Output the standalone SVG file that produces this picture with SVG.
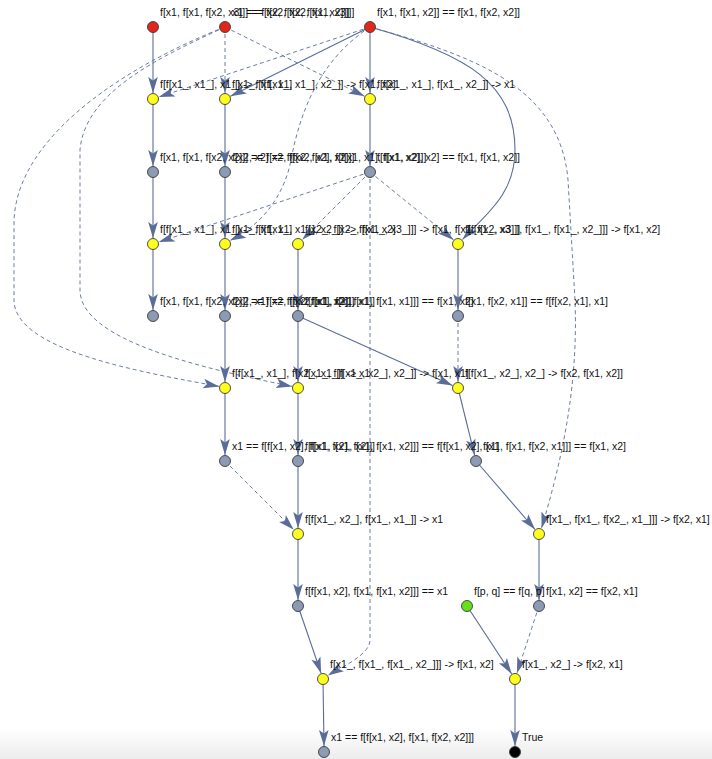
<svg xmlns="http://www.w3.org/2000/svg" width="712" height="759" viewBox="0 0 712 759">
<defs>
<marker id="a" viewBox="-17 -6 18 12" refX="0" refY="0" markerWidth="18" markerHeight="12" markerUnits="userSpaceOnUse" orient="auto">
<path d="M0,0 L-16,-4.8 L-12.5,0 L-16,4.8 Z" fill="#5a6d98"/>
</marker>
<linearGradient id="bg" x1="0" y1="0" x2="0" y2="1">
<stop offset="0" stop-color="#ffffff"/>
<stop offset="1" stop-color="#ececec"/>
</linearGradient>
</defs>
<style>
.s{fill:none;stroke:#5a6d98;stroke-width:1.1;marker-end:url(#a)}
.d{fill:none;stroke:#5a6d98;stroke-width:0.9;stroke-dasharray:4,3;marker-end:url(#a)}
circle{stroke:#3a3a3a;stroke-width:0.9}
.y{fill:#ffff1e}
.g{fill:#8c9ab6}
.r{fill:#e1261c}
.gr{fill:#66e01b}
.k{fill:#000}
text{font-family:"Liberation Sans",Arial,sans-serif;font-size:10.5px;fill:#111}
</style>
<rect x="0" y="0" width="712" height="759" fill="#fff"/>
<rect x="0" y="728" width="712" height="31" fill="url(#bg)"/>
<g id="connectors">
<path class="s" d="M153,27 L153,93"/>
<path class="s" d="M370,27 L370,93"/>
<path class="s" d="M370,27 L230.4,96.3"/>
<path class="d" d="M370,27 L158.7,97.1"/>
<path class="d" d="M225,27 L225,93"/>
<path class="d" d="M225,27 L364.6,96.3"/>
<path class="s" d="M370,27 C470,55 515,85 515,150 C515,195 485,215 462.5,239.5"/>
<path class="d" d="M370,27 C470,55 560,85 568,180 L575,300 C578,380 565,450 541.5,528.3"/>
<path class="d" d="M370,27 C320,60 300,110 290,165 C280,205 255,228 230,240.5"/>
<path class="d" d="M225,27 C140,60 18,130 14,220 L14,300 C14,350 140,372 219.2,386.4"/>
<path class="d" d="M225,27 C165,55 85,90 80,150 L80,290 C80,340 200,368 292.2,386.4"/>
<path class="s" d="M153,99 L153,166"/>
<path class="s" d="M153,172 L153,238"/>
<path class="s" d="M153,244 L153,310"/>
<path class="s" d="M225,99 L225,166"/>
<path class="s" d="M225,172 L225,238"/>
<path class="s" d="M225,244 L225,310"/>
<path class="s" d="M225,316 L225,382"/>
<path class="s" d="M225,388 L225,455"/>
<path class="s" d="M370,99 L370,166"/>
<path class="d" d="M370,172 L158.7,242.1"/>
<path class="d" d="M370,172 L302.2,239.8"/>
<path class="d" d="M370,172 L453.6,239.9"/>
<path class="d" d="M370,172 L370,640 C370,655 340,668 327.8,675.5"/>
<path class="s" d="M298,244 L298,310"/>
<path class="s" d="M298,316 L298,382"/>
<path class="s" d="M298,388 L298,455"/>
<path class="s" d="M298,461 L298,528"/>
<path class="s" d="M298,534 L298,600"/>
<path class="s" d="M298,606 L321.1,673.3"/>
<path class="s" d="M323,679 L324,746"/>
<path class="s" d="M458,244 L458,310"/>
<path class="d" d="M458,316 L458,382"/>
<path class="s" d="M298,316 L452.5,385.5"/>
<path class="s" d="M458,388 L474.6,455.2"/>
<path class="s" d="M476,461 L535.1,529.5"/>
<path class="d" d="M225,461 L293.8,529.8"/>
<path class="s" d="M539,534 L539,600"/>
<path class="d" d="M539,606 L516.9,673.3"/>
<path class="s" d="M467,606 L511.7,674"/>
<path class="s" d="M515,679 L515,746"/>
</g>
<g id="n0"><circle class="r" cx="153" cy="27" r="5.5"/><text x="160" y="15.5">f[x1, f[x1, f[x2, x3]]] == f[x2, f[x2, f[x1, x3]]]</text></g>
<g id="n1"><circle class="r" cx="225" cy="27" r="5.5"/><text x="232" y="15.5">x1 == f[x2, f[x2, f[x1, x2]]]</text></g>
<g id="n2"><circle class="r" cx="370" cy="27" r="5.5"/><text x="377" y="15.5">f[x1, f[x1, x2]] == f[x1, f[x2, x2]]</text></g>
<g id="n3"><circle class="y" cx="153" cy="99" r="5.5"/><text x="160" y="87.5">f[f[x1_, x1_], x1_] -&gt; f[x1, x1]</text></g>
<g id="n4"><circle class="y" cx="225" cy="99" r="5.5"/><text x="232" y="87.5">f[x1_, f[f[x1_, x1_], x2_]] -&gt; f[x1, x2]</text></g>
<g id="n5"><circle class="y" cx="370" cy="99" r="5.5"/><text x="377" y="87.5">f[f[x1_, x1_], f[x1_, x2_]] -&gt; x1</text></g>
<g id="n6"><circle class="g" cx="153" cy="172" r="5.5"/><text x="160" y="160.5">f[x1, f[x1, f[x2, x2]]] == f[x2, f[x2, f[x1, x2]]]</text></g>
<g id="n7"><circle class="g" cx="225" cy="172" r="5.5"/><text x="232" y="160.5">f[x2, x2] == f[f[x2, x2], f[f[x1, x1], f[x1, x2]]]</text></g>
<g id="n8"><circle class="g" cx="370" cy="172" r="5.5"/><text x="377" y="160.5">f[f[x1, x2], x2] == f[x1, f[x1, x2]]</text></g>
<g id="n9"><circle class="y" cx="153" cy="244" r="5.5"/><text x="160" y="232.5">f[f[x1_, x1_], x1_] -&gt; f[x1, x1]</text></g>
<g id="n10"><circle class="y" cx="225" cy="244" r="5.5"/><text x="232" y="232.5">f[x1_, f[f[x1_, x1_], x2_]] -&gt; f[x1, x2]</text></g>
<g id="n11"><circle class="y" cx="298" cy="244" r="5.5"/><text x="305" y="232.5">f[x2_, f[x2_, f[x1_, x3_]]] -&gt; f[x1, f[x1, f[x2, x3]]]</text></g>
<g id="n12"><circle class="y" cx="458" cy="244" r="5.5"/><text x="465" y="232.5">f[f[x1_, x3_], f[x1_, f[x1_, x2_]]] -&gt; f[x1, x2]</text></g>
<g id="n13"><circle class="g" cx="153" cy="316" r="5.5"/><text x="160" y="304.5">f[x1, f[x1, f[x2, x2]]] == f[x2, f[x2, f[x1, x2]]]</text></g>
<g id="n14"><circle class="g" cx="225" cy="316" r="5.5"/><text x="232" y="304.5">f[x2, x1] == f[f[x2, x1], f[x1, x1]]</text></g>
<g id="n15"><circle class="g" cx="298" cy="316" r="5.5"/><text x="305" y="304.5">f[f[x1, x2], f[x1, f[x1, x1]]] == f[x1, x2]</text></g>
<g id="n16"><circle class="g" cx="458" cy="316" r="5.5"/><text x="465" y="304.5">f[x1, f[x2, x1]] == f[f[x2, x1], x1]</text></g>
<g id="n17"><circle class="y" cx="225" cy="388" r="5.5"/><text x="232" y="376.5">f[f[x1_, x1_], f[x2_, x1_]] -&gt; x1</text></g>
<g id="n18"><circle class="y" cx="298" cy="388" r="5.5"/><text x="305" y="376.5">f[x1_, f[f[x1_, x2_], x2_]] -&gt; f[x1, x1]</text></g>
<g id="n19"><circle class="y" cx="458" cy="388" r="5.5"/><text x="465" y="376.5">f[f[x1_, x2_], x2_] -&gt; f[x2, f[x1, x2]]</text></g>
<g id="n20"><circle class="g" cx="225" cy="461" r="5.5"/><text x="232" y="449.5">x1 == f[f[x1, x2], f[x1, f[x1, x2]]]</text></g>
<g id="n21"><circle class="g" cx="298" cy="461" r="5.5"/><text x="305" y="449.5">f[f[x1, x2], f[x1, f[x1, x2]]] == f[f[x1, x2], x1]</text></g>
<g id="n22"><circle class="g" cx="476" cy="461" r="5.5"/><text x="483" y="449.5">f[x1, f[x1, f[x2, x1]]] == f[x1, x2]</text></g>
<g id="n23"><circle class="y" cx="298" cy="534" r="5.5"/><text x="305" y="522.5">f[f[x1_, x2_], f[x1_, x1_]] -&gt; x1</text></g>
<g id="n24"><circle class="y" cx="539" cy="534" r="5.5"/><text x="546" y="522.5">f[x1_, f[x1_, f[x2_, x1_]]] -&gt; f[x2, x1]</text></g>
<g id="n25"><circle class="g" cx="298" cy="606" r="5.5"/><text x="305" y="594.5">f[f[x1, x2], f[x1, f[x1, x2]]] == x1</text></g>
<g id="n26"><circle class="gr" cx="467" cy="606" r="5.5"/><text x="474" y="594.5">f[p, q] == f[q, p]</text></g>
<g id="n27"><circle class="g" cx="539" cy="606" r="5.5"/><text x="546" y="594.5">f[x1, x2] == f[x2, x1]</text></g>
<g id="n28"><circle class="y" cx="323" cy="679" r="5.5"/><text x="330" y="667.5">f[x1_, f[x1_, f[x1_, x2_]]] -&gt; f[x1, x2]</text></g>
<g id="n29"><circle class="y" cx="515" cy="679" r="5.5"/><text x="522" y="667.5">f[x1_, x2_] -&gt; f[x2, x1]</text></g>
<g id="n30"><circle class="g" cx="324" cy="752" r="5.5"/><text x="331" y="740.5">x1 == f[f[x1, x2], f[x1, f[x2, x2]]]</text></g>
<g id="n31"><circle class="k" cx="515" cy="752" r="5.5"/><text x="522" y="740.5">True</text></g>
</svg>
